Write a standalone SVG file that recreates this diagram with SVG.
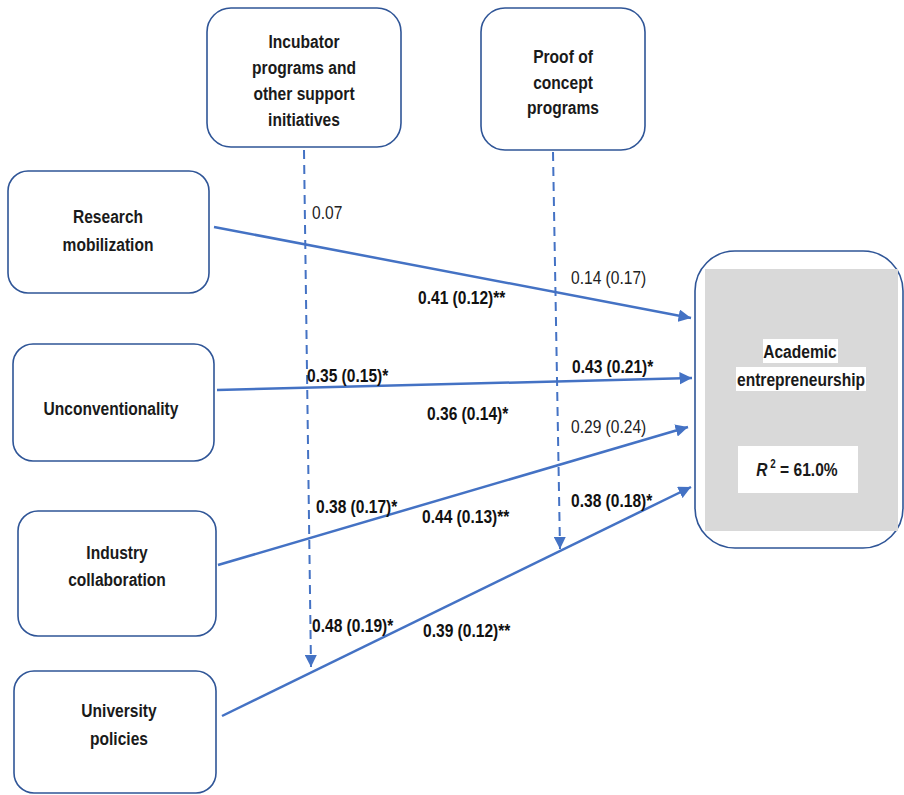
<svg xmlns="http://www.w3.org/2000/svg" width="904" height="795" viewBox="0 0 904 795">
<defs>
<style>
.box{fill:#fff;stroke:#2F5597;stroke-width:1.6}
.t{font-family:"Liberation Sans",Arial,sans-serif;font-weight:bold;font-size:19px;fill:#1a1a1a;text-anchor:middle}
.lb{font-family:"Liberation Sans",Arial,sans-serif;font-weight:bold;font-size:19px;fill:#111}
.lr{font-family:"Liberation Sans",Arial,sans-serif;font-weight:normal;font-size:19px;fill:#222}
.c{fill:none;stroke:#4472C4;stroke-width:2.5}
.d{fill:none;stroke:#4472C4;stroke-width:2;stroke-dasharray:9,6}
</style>
<marker id="ah" viewBox="0 0 10 10" refX="10" refY="5" markerWidth="5" markerHeight="5" orient="auto" markerUnits="strokeWidth">
<path d="M0,0 L10,5 L0,10 Z" fill="#4472C4"/>
</marker>
<marker id="ahd" viewBox="0 0 10 10" refX="10" refY="5" markerWidth="6" markerHeight="6" orient="auto" markerUnits="strokeWidth">
<path d="M0,0 L10,5 L0,10 Z" fill="#4472C4"/>
</marker>
</defs>
<rect width="904" height="795" fill="#fff"/>

<g id="incubator">
<rect class="box" x="207" y="8" width="194" height="139" rx="24"/>
<text class="t" transform="matrix(.82 0 0 1 304 48)">Incubator</text>
<text class="t" transform="matrix(.82 0 0 1 304 74)">programs and</text>
<text class="t" transform="matrix(.82 0 0 1 304 100)">other support</text>
<text class="t" transform="matrix(.82 0 0 1 304 126)">initiatives</text>
</g>
<g id="proof">
<rect class="box" x="481" y="8" width="164" height="142" rx="24"/>
<text class="t" transform="matrix(.82 0 0 1 563 63)">Proof of</text>
<text class="t" transform="matrix(.82 0 0 1 563 89)">concept</text>
<text class="t" transform="matrix(.82 0 0 1 563 114)">programs</text>
</g>
<g id="research">
<rect class="box" x="8" y="171" width="201" height="122" rx="20"/>
<text class="t" transform="matrix(.82 0 0 1 108 223)">Research</text>
<text class="t" transform="matrix(.82 0 0 1 108 251)">mobilization</text>
</g>
<g id="unconventionality">
<rect class="box" x="13" y="344" width="201" height="117" rx="20"/>
<text class="t" transform="matrix(.82 0 0 1 111 415)">Unconventionality</text>
</g>
<g id="industry">
<rect class="box" x="18" y="511" width="198" height="125" rx="20"/>
<text class="t" transform="matrix(.82 0 0 1 117 559)">Industry</text>
<text class="t" transform="matrix(.82 0 0 1 117 586)">collaboration</text>
</g>
<g id="university">
<rect class="box" x="14" y="671" width="202" height="122" rx="20"/>
<text class="t" transform="matrix(.82 0 0 1 119 717)">University</text>
<text class="t" transform="matrix(.82 0 0 1 119 745)">policies</text>
</g>
<g id="academic">
<rect class="box" x="695" y="251" width="208" height="297" rx="40"/>
<rect x="705" y="269" width="193" height="262" fill="#D9D9D9"/>
<rect x="763" y="339" width="75" height="24" fill="#fff"/>
<rect x="736" y="367" width="130" height="24" fill="#fff"/>
<text class="t" transform="matrix(.82 0 0 1 800 358)">Academic</text>
<text class="t" transform="matrix(.82 0 0 1 801 386)">entrepreneurship</text>
<rect x="738" y="446" width="120" height="47" fill="#fff"/>
<text class="t" transform="matrix(.82 0 0 1 797 476)"><tspan font-style="italic">R</tspan><tspan font-size="12" dy="-8"> 2</tspan><tspan dy="8"> = 61.0%</tspan></text>
</g>

<g id="connectors">
<line class="c" x1="214" y1="227" x2="691" y2="318" marker-end="url(#ah)"/>
<line class="c" x1="217" y1="390" x2="692" y2="378" marker-end="url(#ah)"/>
<line class="c" x1="218" y1="565" x2="688" y2="427" marker-end="url(#ah)"/>
<line class="c" x1="222" y1="716" x2="691" y2="487" marker-end="url(#ah)"/>
<line class="d" x1="304" y1="150" x2="311" y2="667" marker-end="url(#ahd)"/>
<line class="d" x1="553" y1="152" x2="560" y2="549" marker-end="url(#ahd)"/>
</g>

<g id="labels">
<text class="lr" transform="matrix(.82 0 0 1 312 219)">0.07</text>
<text class="lr" transform="matrix(.82 0 0 1 571 284)">0.14 (0.17)</text>
<text class="lb" transform="matrix(.82 0 0 1 418 304)">0.41 (0.12)**</text>
<text class="lb" transform="matrix(.82 0 0 1 307 382)">0.35 (0.15)*</text>
<text class="lb" transform="matrix(.82 0 0 1 572 373)">0.43 (0.21)*</text>
<text class="lb" transform="matrix(.82 0 0 1 427 420)">0.36 (0.14)*</text>
<text class="lr" transform="matrix(.82 0 0 1 571 433)">0.29 (0.24)</text>
<text class="lb" transform="matrix(.82 0 0 1 316 513)">0.38 (0.17)*</text>
<text class="lb" transform="matrix(.82 0 0 1 422 523)">0.44 (0.13)**</text>
<text class="lb" transform="matrix(.82 0 0 1 571 507)">0.38 (0.18)*</text>
<text class="lb" transform="matrix(.82 0 0 1 312 632)">0.48 (0.19)*</text>
<text class="lb" transform="matrix(.82 0 0 1 423 637)">0.39 (0.12)**</text>
</g>
</svg>
